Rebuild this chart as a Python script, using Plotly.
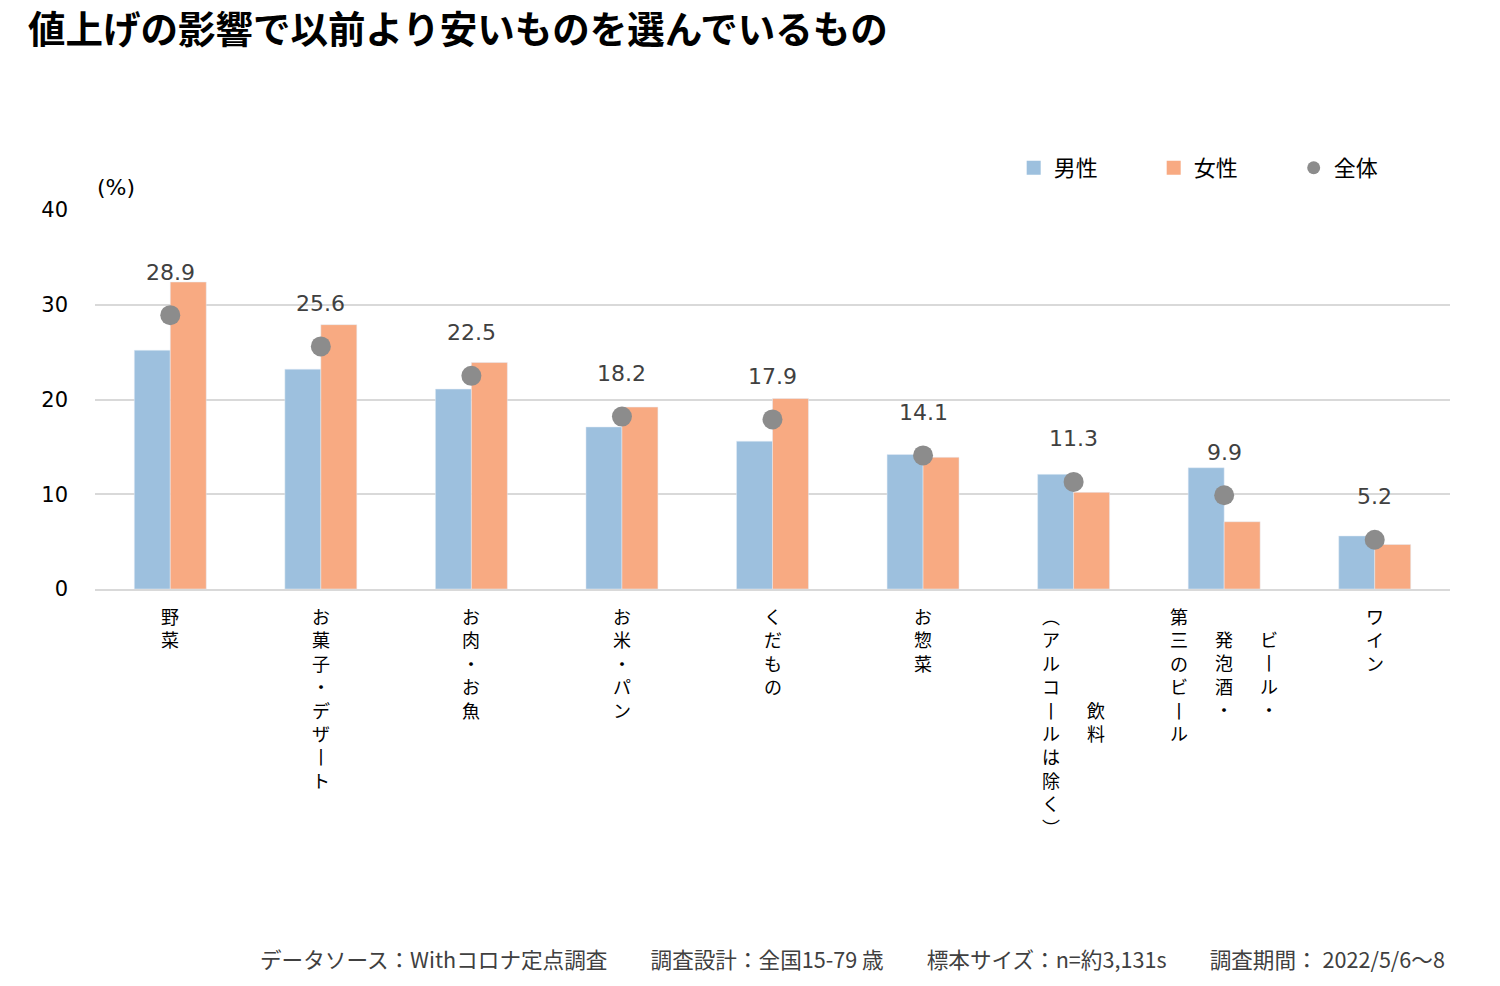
import plotly.graph_objects as go

# ---- data ----
categories = ["野菜", "お菓子・デザート", "お肉・お魚", "お米・パン", "くだもの", "お惣菜",
              "飲料（アルコールは除く）", "ビール・発泡酒・第三のビール", "ワイン"]
label_columns = [["野菜"], ["お菓子・デザート"], ["お肉・お魚"], ["お米・パン"], ["くだもの"],
                 ["お惣菜"], ["飲料", "（アルコールは除く）"], ["ビール・", "発泡酒・", "第三のビール"], ["ワイン"]]
male = [25.2, 23.2, 21.1, 17.1, 15.6, 14.2, 12.1, 12.8, 5.6]
female = [32.4, 27.9, 23.9, 19.2, 20.1, 13.9, 10.2, 7.1, 4.7]
total = [28.9, 25.6, 22.5, 18.2, 17.9, 14.1, 11.3, 9.9, 5.2]
series_names = ["男性", "女性", "全体"]
y_ticks = [0, 10, 20, 30, 40]

title_text = "値上げの影響で以前より安いものを選んでいるもの"
footer_text = "データソース：Withコロナ定点調査　　調査設計：全国15-79 歳　　標本サイズ：n=約3,131s　　調査期間： 2022/5/6～8"

C_MALE = "#9DC0DE"
C_FEMALE = "#F8AA82"
C_TOTAL = "#8C8C8C"
TXT = "#404040"
FONT = "'DejaVu Sans', 'Noto Sans CJK JP', sans-serif"
JFONT = "'Noto Sans CJK JP', sans-serif"

fig = go.Figure()
fig.add_trace(go.Bar(x=categories, y=male, name=series_names[0], marker_color=C_MALE, showlegend=False))
fig.add_trace(go.Bar(x=categories, y=female, name=series_names[1], marker_color=C_FEMALE, showlegend=False))
fig.add_trace(go.Scatter(x=categories, y=total, name=series_names[2], mode="markers",
                         marker=dict(color=C_TOTAL, size=20), showlegend=False))

# legend-only entries (sized like the reference legend keys)
for name, color, sym, sz in [(series_names[0], C_MALE, "square", 14),
                             (series_names[1], C_FEMALE, "square", 14),
                             (series_names[2], C_TOTAL, "circle", 13)]:
    fig.add_trace(go.Scatter(x=[None], y=[None], name=name, mode="markers",
                             marker=dict(color=color, symbol=sym, size=sz), showlegend=True))

annotations = []
# value labels above total markers
for c, v in zip(categories, total):
    annotations.append(dict(x=c, y=v, xref="x", yref="y", text=f"{v:.1f}", showarrow=False,
                            yshift=43, font=dict(size=22, color=TXT, family=FONT)))

# vertical category labels (columns right-to-left, each column centred in the block)
VMAP = {"ー": "丨", "（": "︵", "）": "︶"}
def vertical(s):
    return "<br>".join(VMAP.get(ch, ch) for ch in s)

FS = 18
pitch = FS * 1.3
col_gap = 45
for c, cols in zip(categories, label_columns):
    n = len(cols)
    maxlen = max(len(s) for s in cols)
    for i, s in enumerate(cols):
        annotations.append(dict(x=c, y=0, xref="x", yref="paper", text=vertical(s), showarrow=False,
                                xanchor="center", yanchor="top",
                                xshift=((n - 1) / 2 - i) * col_gap,
                                yshift=-12 - (maxlen - len(s)) * pitch / 2,
                                font=dict(size=FS, color="#000000", family=JFONT)))

# unit label
annotations.append(dict(x=0, y=1, xref="paper", yref="paper", text="(%)", showarrow=False,
                        xanchor="left", yanchor="middle", yshift=23,
                        font=dict(size=22, color="#000000", family=FONT)))
# footer
annotations.append(dict(x=1, y=0, xref="paper", yref="paper", text=footer_text, showarrow=False,
                        xanchor="right", yanchor="middle", xshift=-3, yshift=-369,
                        font=dict(size=21.6, color=TXT, family=JFONT)))

fig.update_layout(
    width=1500, height=986,
    margin=dict(l=95, r=50, t=210, b=397, pad=0),
    paper_bgcolor="white", plot_bgcolor="white",
    barmode="group", bargap=0.522, bargroupgap=0,
    title=dict(text=f"<b>{title_text}</b>", x=28 / 1500, xref="container", xanchor="left",
               y=1 - 30 / 986, yref="container", yanchor="middle",
               font=dict(size=37.5, color="#000000", family=JFONT)),
    legend=dict(orientation="h", x=0.678, y=1.111, xanchor="left", yanchor="middle",
                font=dict(size=22, color="#000000", family=JFONT),
                entrywidth=95, entrywidthmode="pixels", itemsizing="trace",
                bgcolor="rgba(0,0,0,0)", traceorder="normal"),
    xaxis=dict(type="category", range=[-0.5, len(categories) - 0.5], showticklabels=False, ticks="",
               showline=True, linecolor="#D9D9D9", linewidth=2, showgrid=False, zeroline=False),
    yaxis=dict(range=[0, 40], tickvals=y_ticks, ticktext=[str(t) for t in y_ticks],
               showgrid=True, gridcolor="#D9D9D9", gridwidth=2, zeroline=False,
               showline=False, ticks="", ticklabelstandoff=26,
               tickfont=dict(size=21, color="#000000", family=FONT)),
    annotations=annotations,
    showlegend=True,
)

fig.write_html("out.html")
